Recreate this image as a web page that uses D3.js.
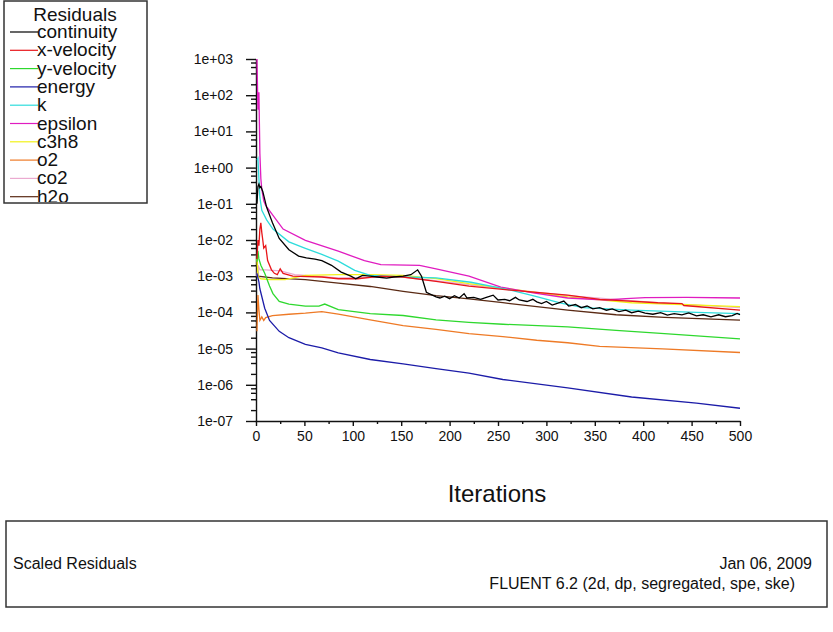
<!DOCTYPE html>
<html>
<head>
<meta charset="utf-8">
<script src="https://cdn.jsdelivr.net/npm/d3@7"></script>
<style>
  body { margin: 0; background: #fff; }
  text { font-family: "Liberation Sans", Arial, sans-serif; fill: #111; }
</style>
</head>
<body>
<svg id="chart" width="833" height="632"></svg>
<script>
// residual series, [iteration, scaled residual]
var continuity = [[1,0.1],[2,0.3],[3,0.35],[4,0.28],[5,0.3],[7,0.22],[11,0.08],[17,0.03],[24,0.011],[34,5.4e-3],[44,3.6e-3],[52,3.2e-3],[61,2.95e-3],[68,2.7e-3],[78,2.0e-3],[88,1.3e-3],[98,1.0e-3],[103,8.5e-4],[105,9.0e-4],[110,1.05e-3],[118,1.0e-3],[125,9.5e-4],[135,8.9e-4],[142,9.5e-4],[152,1.0e-3],[160,1.1e-3],[167,1.5e-3],[171,1.0e-3],[176,3.6e-4],[186,2.7e-4],[190,2.5e-4],[195,2.8e-4],[200,2.4e-4],[205,2.9e-4],[210,2.5e-4],[215,3.3e-4],[218,2.5e-4],[225,2.6e-4],[232,2.3e-4],[238,2.6e-4],[245,3.0e-4],[250,2.2e-4],[257,2.3e-4],[262,2.1e-4],[268,2.6e-4],[272,2.2e-4],[280,2.0e-4],[286,2.3e-4],[290,1.95e-4],[295,1.75e-4],[300,2.0e-4],[306,1.6e-4],[312,1.8e-4],[318,2.05e-4],[323,1.5e-4],[330,1.65e-4],[336,1.35e-4],[342,1.5e-4],[348,1.25e-4],[355,1.35e-4],[362,1.15e-4],[368,1.25e-4],[375,1.05e-4],[382,1.15e-4],[388,9.8e-5],[395,1.08e-4],[402,9.6e-5],[410,8.9e-5],[418,9.9e-5],[425,8.4e-5],[432,9.3e-5],[440,8.5e-5],[447,9.7e-5],[455,8.0e-5],[462,8.6e-5],[470,7.5e-5],[478,8.6e-5],[485,7.6e-5],[492,8.2e-5],[497,9.4e-5],[500,8.6e-5]];
var xVelocity = [[1,3e-3],[2,0.01],[3,7e-3],[4,0.02],[5,0.03],[6,0.016],[7,0.01],[8,6e-3],[10,7e-3],[12,2.7e-3],[16,1.5e-3],[19,1.2e-3],[22,1.1e-3],[25,1.6e-3],[28,1.2e-3],[38,1.0e-3],[68,9.5e-4],[85,8.5e-4],[105,8.5e-4],[129,1.0e-3],[152,9.5e-4],[186,7.2e-4],[220,5.3e-4],[255,4.3e-4],[322,3.0e-4],[355,2.3e-4],[415,1.85e-4],[440,1.75e-4],[442,1.55e-4],[500,1.15e-4]];
var yVelocity = [[1,2.5e-3],[2,5e-3],[3,3e-3],[5,2e-3],[9,1.2e-3],[14,5.4e-4],[17.5,3.3e-4],[24,2.0e-4],[34,1.7e-4],[51,1.5e-4],[65,1.5e-4],[71,1.7e-4],[85,1.2e-4],[118,9.2e-5],[152,8.2e-5],[186,6.2e-5],[220,5.3e-5],[255,4.7e-5],[322,4.0e-5],[372,3.2e-5],[422,2.6e-5],[500,1.85e-5]];
var energy = [[1,1.2e-3],[2,9e-4],[3,7e-4],[4,4.5e-4],[9,1.3e-4],[14,6e-5],[24,3e-5],[34,2e-5],[51,1.3e-5],[68,1.05e-5],[85,7.6e-6],[118,5.0e-6],[152,3.8e-6],[186,2.8e-6],[220,2.1e-6],[255,1.4e-6],[322,8.2e-7],[388,4.6e-7],[455,3.1e-7],[500,2.25e-7]];
var kTurb = [[1,1.6],[2,1.8],[3,0.5],[4,0.15],[6,0.066],[11,0.036],[17.5,0.02],[34,8.9e-3],[51,5.9e-3],[68,4.0e-3],[85,2.6e-3],[102,1.45e-3],[118,1.05e-3],[152,9.5e-4],[186,9e-4],[222,6.8e-4],[262,4.2e-4],[288,2.8e-4],[315,1.8e-4],[338,1.35e-4],[388,1.15e-4],[455,1.0e-4],[500,9.2e-5]];
var epsilon = [[1,1e3],[2,40],[3,120],[4,2.5],[5,0.5],[6,0.25],[8,0.12],[10,0.09],[16,0.054],[28,0.02],[51,9.8e-3],[85,4.9e-3],[112,2.7e-3],[129,2.1e-3],[169,2.0e-3],[186,1.6e-3],[220,1.0e-3],[253,5.0e-4],[288,3.4e-4],[322,2.5e-4],[362,2.2e-4],[382,2.4e-4],[402,2.55e-4],[445,2.6e-4],[500,2.5e-4]];
var c3h8 = [[1,3e-3],[2,1e-3],[5,8.5e-4],[15,8e-4],[30,8e-4],[51,1.05e-3],[85,1.1e-3],[118,1.1e-3],[152,1.05e-3],[186,8.6e-4],[220,6.2e-4],[255,4.7e-4],[322,2.7e-4],[388,1.85e-4],[500,1.45e-4]];
var o2 = [[1,3e-5],[2,3e-4],[3,1.2e-4],[4,6e-5],[6,7.5e-5],[8,6e-5],[10,7.2e-5],[17,8.1e-5],[34,8.9e-5],[51,9.5e-5],[68,1.05e-4],[85,9.0e-5],[118,6.2e-5],[152,4.3e-5],[186,3.4e-5],[220,2.6e-5],[255,2.15e-5],[290,1.7e-5],[322,1.45e-5],[355,1.15e-5],[420,9.8e-6],[500,7.8e-6]];
var co2 = [[1,1e-3],[2,2e-3],[4,1.5e-3],[10,1.5e-3],[25,1.4e-3],[40,1.1e-3],[85,9e-4],[152,9.5e-4],[220,5.8e-4],[322,2.9e-4],[420,1.8e-4],[500,1.35e-4]];
var h2o = [[1,3e-3],[2,1.0e-3],[17,9e-4],[51,8.0e-4],[85,6.4e-4],[118,5.2e-4],[152,3.8e-4],[186,2.9e-4],[220,2.35e-4],[255,1.85e-4],[322,1.15e-4],[372,8.6e-5],[422,7.3e-5],[500,6.1e-5]];

var seriesNames = ["continuity", "x-velocity", "y-velocity", "energy", "k", "epsilon", "c3h8", "o2", "co2", "h2o"];
var seriesData = [continuity, xVelocity, yVelocity, energy, kTurb, epsilon, c3h8, o2, co2, h2o];
var seriesColors = ["#000000", "#e8161a", "#2ed82e", "#1c1ca8", "#2edcdc", "#e01cc0", "#f2f21a", "#ee7a26", "#ebaad0", "#5a2a14"];

var xTicks = [0, 50, 100, 150, 200, 250, 300, 350, 400, 450, 500];
var xMinorTicks = [25, 75, 125, 175, 225, 275, 325, 375, 425, 475];
var yTicks = [1e-7, 1e-6, 1e-5, 1e-4, 1e-3, 1e-2, 1e-1, 1e0, 1e1, 1e2, 1e3];
var yTickLabels = ["1e-07", "1e-06", "1e-05", "1e-04", "1e-03", "1e-02", "1e-01", "1e+00", "1e+01", "1e+02", "1e+03"];

var svg = d3.select("#chart");

// plot area
var plotLeft = 256, plotRight = 740, plotTop = 59, plotBottom = 421;

var x = d3.scaleLinear().domain([0, 500]).range([plotLeft, plotRight]);
var y = d3.scaleLog().domain([1e-7, 1e3]).range([plotBottom, plotTop]);

// minor ticks at 2,4,6,8 of each decade
var yMinorTicks = [];
yTicks.slice(0, -1).forEach(function (t) {
  [2, 4, 6, 8].forEach(function (m) { yMinorTicks.push(t * m); });
});

// y axis
svg.append("g")
  .attr("transform", "translate(" + plotLeft + ",0)")
  .call(d3.axisLeft(y).tickValues(yMinorTicks).tickSize(5).tickSizeOuter(0).tickFormat(""))
  .call(function (g) { g.select(".domain").remove(); });

var yAxis = svg.append("g")
  .attr("transform", "translate(" + plotLeft + ",0)")
  .call(d3.axisLeft(y).tickValues(yTicks).tickSize(10).tickSizeOuter(0).tickPadding(13)
    .tickFormat(function (d, i) { return yTickLabels[i]; }));
yAxis.selectAll("text").style("font-size", "14px").attr("fill", "#111");

// x axis
svg.append("g")
  .attr("transform", "translate(0," + plotBottom + ")")
  .call(d3.axisBottom(x).tickValues(xMinorTicks).tickSize(3).tickSizeOuter(0).tickFormat(""))
  .call(function (g) { g.select(".domain").remove(); });

var xAxis = svg.append("g")
  .attr("transform", "translate(0," + plotBottom + ")")
  .call(d3.axisBottom(x).tickValues(xTicks).tickSize(5).tickSizeOuter(0).tickPadding(5));
xAxis.selectAll("text").style("font-size", "14px").attr("fill", "#111");

svg.selectAll(".domain, .tick line").attr("stroke", "#111").attr("stroke-width", 1.4);

svg.append("text")
  .attr("x", 497)
  .attr("y", 502)
  .attr("text-anchor", "middle")
  .style("font-size", "24px")
  .text("Iterations");

// residual lines
var line = d3.line()
  .x(function (d) { return x(d[0]); })
  .y(function (d) { return y(d[1]); });

var order = d3.range(seriesData.length).reverse();
svg.append("g")
  .selectAll("path")
  .data(order)
  .enter()
  .append("path")
  .attr("d", function (i) { return line(seriesData[i]); })
  .attr("fill", "none")
  .attr("stroke", function (i) { return seriesColors[i]; })
  .attr("stroke-width", 1.3);

// legend box
var legend = svg.append("g");
legend.append("rect")
  .attr("x", 4).attr("y", 1).attr("width", 143).attr("height", 202)
  .attr("fill", "#fff").attr("stroke", "#333").attr("stroke-width", 1.5);

svg.append("clipPath").attr("id", "legclip")
  .append("rect").attr("x", 4).attr("y", 1).attr("width", 143).attr("height", 201);

var legItems = legend.append("g").attr("clip-path", "url(#legclip)");
legItems.append("text")
  .attr("x", 75).attr("y", 21)
  .attr("text-anchor", "middle")
  .style("font-size", "19px")
  .text("Residuals");

seriesNames.forEach(function (name, i) {
  var ly = 32 + i * 18.3;
  legItems.append("line")
    .attr("x1", 10).attr("x2", 38)
    .attr("y1", ly).attr("y2", ly)
    .attr("stroke", seriesColors[i]).attr("stroke-width", 1.2);
  legItems.append("text")
    .attr("x", 37).attr("y", ly + 6)
    .style("font-size", "19px")
    .text(name);
});

// bottom info box
svg.append("rect")
  .attr("x", 6).attr("y", 521).attr("width", 821).attr("height", 86)
  .attr("fill", "#fff").attr("stroke", "#333").attr("stroke-width", 1.5);

svg.append("text").attr("x", 13).attr("y", 569)
  .style("font-size", "16px").text("Scaled Residuals");
svg.append("text").attr("x", 812).attr("y", 569)
  .attr("text-anchor", "end").style("font-size", "16px").text("Jan 06, 2009");
svg.append("text").attr("x", 795).attr("y", 589)
  .attr("text-anchor", "end").style("font-size", "16px").text("FLUENT 6.2 (2d, dp, segregated, spe, ske)");
</script>
</body>
</html>
